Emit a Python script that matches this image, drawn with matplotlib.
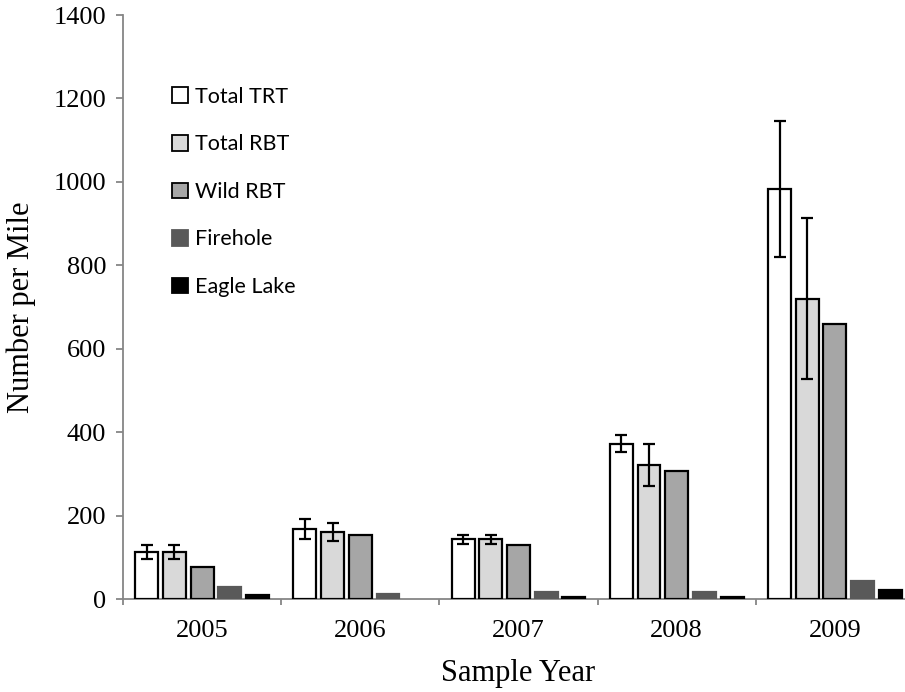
import numpy as np
import matplotlib
matplotlib.use('Agg')
import matplotlib.pyplot as plt

# data
years = ['2005', '2006', '2007', '2008', '2009']
series = ['Total TRT', 'Total RBT', 'Wild RBT', 'Firehole', 'Eagle Lake']
total_trt = [113, 167, 143, 372, 984]
total_rbt = [113, 160, 143, 322, 720]
wild_rbt = [77, 154, 129, 306, 659]
firehole = [29, 11, 16, 16, 44]
eagle_lake = [10, 0, 5, 5, 21]
err_trt = [17, 24, 10, 20, 163]
err_rbt = [17, 22, 10, 50, 193]

values = [total_trt, total_rbt, wild_rbt, firehole, eagle_lake]
errors = [err_trt, err_rbt, None, None, None]
fills = ['#FFFFFF', '#D9D9D9', '#A6A6A6', '#595959', '#000000']
edges = ['#000000', '#000000', '#000000', '#595959', '#000000']

fig = plt.figure(figsize=(9.05, 6.92), dpi=100)
ax = fig.add_axes([123 / 905, 93 / 692, 791 / 905, 584 / 692])

x = np.arange(len(years))
step = 0.175
width = 0.145
for i, (vals, err) in enumerate(zip(values, errors)):
    pos = x + (i - 2) * step
    bars = ax.bar(pos, vals, width, color=fills[i], edgecolor=edges[i], linewidth=1.6,
                  label=series[i], zorder=2)
    # Excel draws nothing for a zero value
    for b, v in zip(bars, vals):
        if v == 0:
            b.set_visible(False)
    if err is not None:
        ax.errorbar(pos, vals, yerr=err, fmt='none', ecolor='black',
                    elinewidth=1.6, capsize=4.5, capthick=1.6, zorder=3)

ax.set_xlim(-0.5, len(years) - 0.5)
ax.set_ylim(0, 1400)
ax.set_yticks(range(0, 1401, 200))
ax.set_xticks(x)
ax.set_xticklabels(years)
ax.set_xticks(np.arange(-0.5, len(years), 1), minor=True)

serif = 'Liberation Serif'
for lab in ax.get_xticklabels() + ax.get_yticklabels():
    lab.set_family(serif)
    lab.set_fontsize(19)

grey = '#868686'
for s in ['top', 'right']:
    ax.spines[s].set_visible(False)
for s in ['left', 'bottom']:
    ax.spines[s].set_color(grey)
    ax.spines[s].set_linewidth(1.3)
    ax.spines[s].set_zorder(1)
ax.tick_params(axis='y', direction='out', length=5, width=1.3, color=grey, pad=7)
ax.tick_params(axis='x', which='major', length=0, pad=15)
ax.tick_params(axis='x', which='minor', direction='out', length=4, width=1.3, color=grey)

ax.set_xlabel('Sample Year', family=serif, fontsize=22, labelpad=12)
ax.set_ylabel('Number per Mile', family=serif, fontsize=22)
ax.yaxis.set_label_coords(-0.11, 0.5)

leg = ax.legend(loc='upper left', bbox_to_anchor=(0.062, 0.877), frameon=False,
                prop={'family': 'Lato', 'size': 15.5}, handlelength=0.75, handleheight=0.75,
                handletextpad=0.33, labelspacing=1.28, borderpad=0, borderaxespad=0)
for h in leg.legend_handles:
    h.set_linewidth(1.3)

fig.savefig('out.png', dpi=100)
